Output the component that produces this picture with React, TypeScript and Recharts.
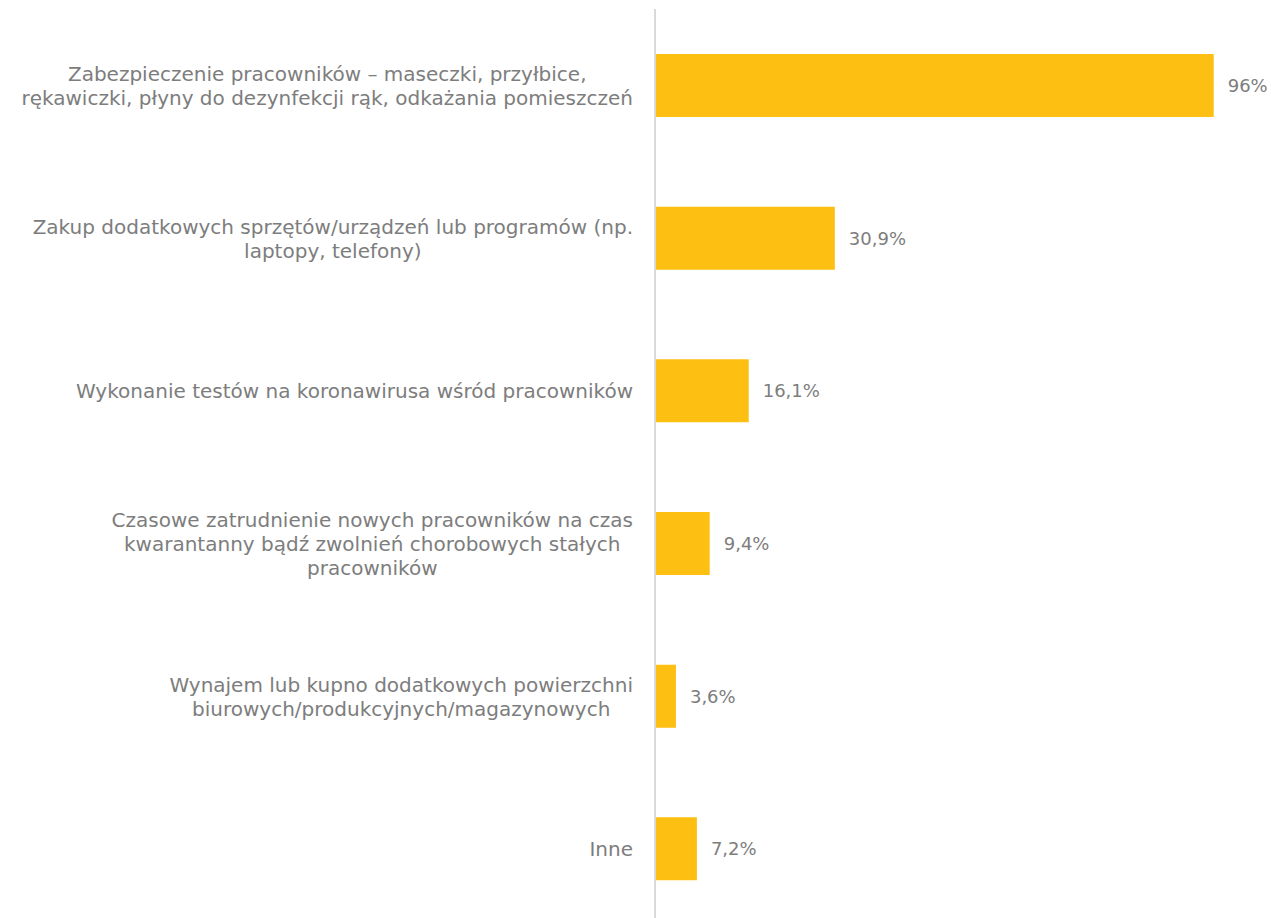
import { BarChart, Bar, XAxis, YAxis, LabelList } from 'recharts';

const categories = [
  'Zabezpieczenie pracowników – maseczki, przyłbice,\nrękawiczki, płyny do dezynfekcji rąk, odkażania pomieszczeń',
  'Zakup dodatkowych sprzętów/urządzeń lub programów (np.\nlaptopy, telefony)',
  'Wykonanie testów na koronawirusa wśród pracowników',
  'Czasowe zatrudnienie nowych pracowników na czas\nkwarantanny bądź zwolnień chorobowych stałych\npracowników',
  'Wynajem lub kupno dodatkowych powierzchni\nbiurowych/produkcyjnych/magazynowych',
  'Inne',
];
const values = [96, 30.9, 16.1, 9.4, 3.6, 7.2];
const valueLabels = ['96%', '30,9%', '16,1%', '9,4%', '3,6%', '7,2%'];

const data = categories.map((name, i) => ({ name, value: values[i], label: valueLabels[i] }));

const FONT = '"DejaVu Sans", sans-serif';
const CAT_SIZE = 20;
const VAL_SIZE = 18;
const TEXT = '#7d7d7d';
const BAR = '#FDBF12';

let ctx: CanvasRenderingContext2D | null = null;
function measure(s: string) {
  if (!ctx) ctx = document.createElement('canvas').getContext('2d');
  if (!ctx) return s.length * 11;
  ctx.font = `${CAT_SIZE}px ${FONT}`;
  return ctx.measureText(s).width;
}

function CategoryTick(props: any) {
  const { x, y, payload } = props;
  const lines: string[] = String(payload.value).split('\n');
  const blockW = Math.max(...lines.map(measure));
  const right = x - 14;
  const cx = right - blockW / 2;
  const lh = 24;
  return (
    <g>
      {lines.map((l, i) => (
        <text
          key={i}
          x={cx}
          y={y + (i - (lines.length - 1) / 2) * lh + CAT_SIZE * 0.38}
          textAnchor="middle"
          fill={TEXT}
          fontSize={CAT_SIZE}
          fontFamily={FONT}
        >
          {l}
        </text>
      ))}
    </g>
  );
}

export default function App() {
  return (
    <div style={{ position: 'absolute', left: 0, top: 0, width: 1271, height: 918, overflow: 'hidden', background: '#fff' }}>
      <BarChart
        width={1271}
        height={925}
        data={data}
        layout="vertical"
        margin={{ top: 9, right: 34, bottom: 0, left: 0 }}
        barSize={63}
      >
        <XAxis type="number" domain={[0, 100]} hide />
        <YAxis
          type="category"
          dataKey="name"
          width={655}
          axisLine={{ stroke: '#d9d9d9', strokeWidth: 2 }}
          tickLine={false}
          tick={<CategoryTick />}
          interval={0}
        />
        <Bar dataKey="value" fill={BAR} isAnimationActive={false}>
          <LabelList
            dataKey="label"
            position="right"
            offset={14}
            fill={TEXT}
            fontSize={VAL_SIZE}
            fontFamily={FONT}
          />
        </Bar>
      </BarChart>
    </div>
  );
}
